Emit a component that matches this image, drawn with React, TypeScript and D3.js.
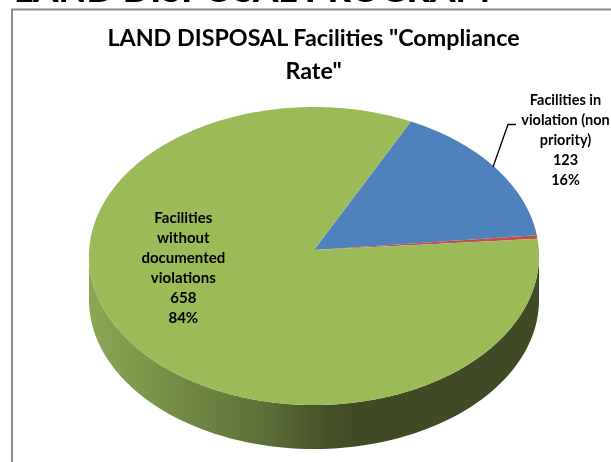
import React from "react";
import * as d3 from "d3";

const categories = ["Facilities in violation (non priority)", "Facilities in violation (priority)", "Facilities without documented violations"];
const values = [123, 3, 658];
const colors = ["#4f81bd", "#c0504d", "#9bbb59"];
const titleLines = ['LAND DISPOSAL Facilities "Compliance', 'Rate"'];
const rightLabel = ["Facilities in", "violation (non", "priority)", "123", "16%"];
const leftLabel = ["Facilities", "without", "documented", "violations", "658", "84%"];
const wallStops: [number, string][] = [
  [0, "#8ba654"], [0.12, "#7d984b"], [0.27, "#6b8140"], [0.4, "#5c6e37"], [0.47, "#4f5c2d"], [0.54, "#454f27"], [0.6, "#404a24"], [1, "#404a24"],
];

const W = 611, H = 462;
const cx = 314, cy = 256, rx = 225, ry = 149, depth = 44;
const apexY = 250;
const startDeg = 25.5;
const FONT = "Lato, Carlito, 'Open Sans', sans-serif";

export default function App() {
  const pie = d3.pie<number>().sort(null)
    .startAngle((startDeg * Math.PI) / 180)
    .endAngle(((startDeg + 360) * Math.PI) / 180);
  const arcs = pie(values);
  // Angle 0 is at 12 o'clock and runs clockwise, as d3.pie gives it.
  const pt = (a: number): [number, number] => [cx + rx * Math.sin(a), cy - ry * Math.cos(a)];
  const line = d3.line();
  const slicePath = (s: number, e: number) => {
    const n = Math.max(2, Math.ceil(((e - s) * 180) / Math.PI));
    const pts = d3.range(n + 1).map((i) => pt(s + ((e - s) * i) / n));
    return line([[cx, apexY], ...pts]) + "Z";
  };
  const wallAngles = d3.range(90, 271, 2).map((d) => (d * Math.PI) / 180);
  const wall = d3.area<number>()
    .x((a) => pt(a)[0])
    .y0((a) => pt(a)[1])
    .y1((a) => pt(a)[1] + depth)(wallAngles) as string;
  const leader = line([[493, 167], [508, 124.5], [516, 124.5]]) as string;

  return (
    <svg width={W} height={H} viewBox={`0 0 ${W} ${H}`} style={{ position: "absolute", left: 0, top: 0, background: "#fff" }}>
      <defs>
        <linearGradient id="wall" gradientUnits="userSpaceOnUse" x1={cx - rx} x2={cx + rx} y1={0} y2={0}>
          {wallStops.map(([o, c]) => <stop key={o} offset={`${o * 100}%`} stopColor={c} />)}
        </linearGradient>
        <filter id="soft" x="-5%" y="-5%" width="110%" height="110%">
          <feGaussianBlur stdDeviation="0.4" />
        </filter>
      </defs>
      <text x={14} y={2} fontFamily={FONT} fontWeight={900} fontSize={34} fill="#000" textLength={476} lengthAdjust="spacingAndGlyphs" filter="url(#soft)">LAND DISPOSAL PROGRAM</text>
      <path d="M12 462V9.5H611" fill="none" stroke="#8c8c8c" strokeWidth={2} />
      <path d={wall} fill="url(#wall)" />
      {arcs.map((d, i) => (
        <path key={categories[i]} d={slicePath(d.startAngle, d.endAngle)} fill={colors[i]} />
      ))}
      <path d={leader} fill="none" stroke="#000" strokeWidth={1.3} />
      <g filter="url(#soft)">
        {titleLines.map((t, i) => (
          <text key={t} x={313.5} y={46 + i * 33} textAnchor="middle" fontFamily={FONT} fontWeight={700} fontSize={23.3} fill="#000">{t}</text>
        ))}
        {rightLabel.map((t, i) => (
          <text key={t} x={565.5} y={105 + i * 20} textAnchor="middle" fontFamily={FONT} fontWeight={700} fontSize={14.5} fill="#000">{t}</text>
        ))}
        {leftLabel.map((t, i) => (
          <text key={t} x={183.3} y={222.7 + i * 20} textAnchor="middle" fontFamily={FONT} fontWeight={700} fontSize={15} fill="#000">{t}</text>
        ))}
      </g>
    </svg>
  );
}
